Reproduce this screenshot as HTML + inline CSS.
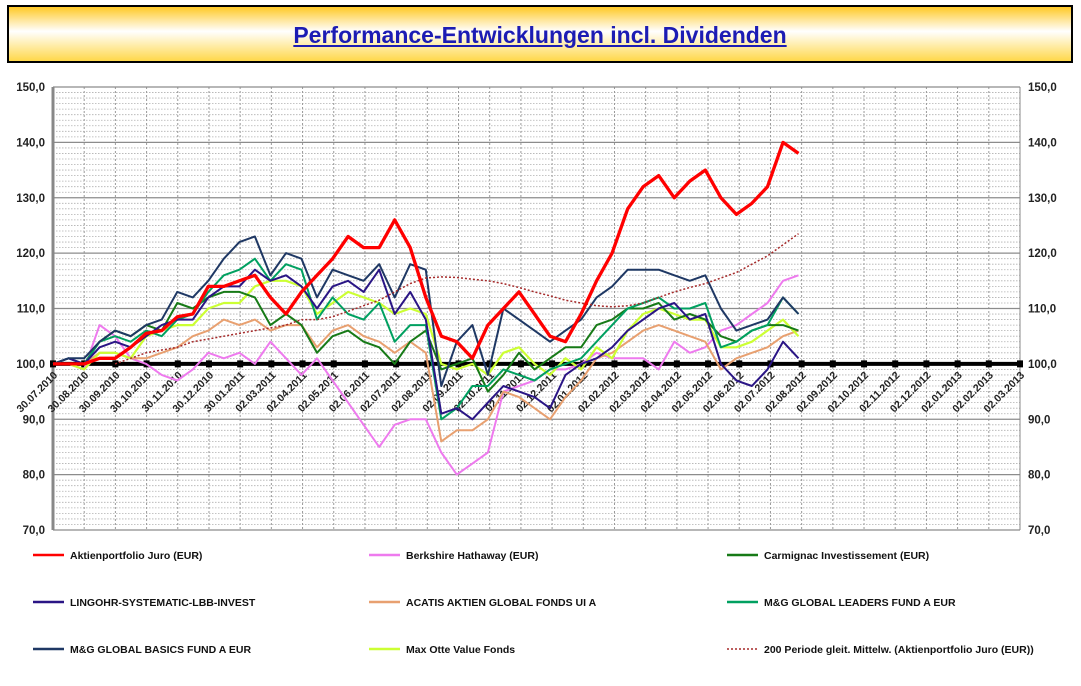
<!DOCTYPE html>
<html><head><meta charset="utf-8"><style>
html,body{margin:0;padding:0;background:#fff;width:1081px;height:686px;overflow:hidden;font-family:"Liberation Sans",sans-serif}
#title{position:absolute;left:7px;top:5px;width:1062px;height:54px;border:2px solid #000;background:linear-gradient(#ffc926 0%,#fff 45%,#ffd84a 100%);text-align:center}
#title span{display:inline-block;margin-top:15px;font-size:23px;font-weight:bold;color:#1c1cb4;text-decoration:underline}
svg{position:absolute;left:0;top:0}
</style></head><body>
<div id="title"><span>Performance-Entwicklungen incl. Dividenden</span></div>
<svg id="chart" width="1081" height="686"></svg>
<script>
const monthLabels=["30.07.2010","30.08.2010","30.09.2010","30.10.2010","30.11.2010","30.12.2010","30.01.2011","02.03.2011","02.04.2011","02.05.2011","02.06.2011","02.07.2011","02.08.2011","02.09.2011","02.10.2011","02.11.2011","02.12.2011","02.01.2012","02.02.2012","02.03.2012","02.04.2012","02.05.2012","02.06.2012","02.07.2012","02.08.2012","02.09.2012","02.10.2012","02.11.2012","02.12.2012","02.01.2013","02.02.2013","02.03.2013"];
const yTicks=[70,80,90,100,110,120,130,140,150];
const seriesNames=["Aktienportfolio Juro (EUR)","Berkshire Hathaway (EUR)","Carmignac Investissement (EUR)","LINGOHR-SYSTEMATIC-LBB-INVEST","ACATIS AKTIEN GLOBAL FONDS UI A","M&G GLOBAL LEADERS FUND A EUR","M&G GLOBAL BASICS FUND A EUR","Max Otte Value Fonds","200 Periode gleit. Mittelw. (Aktienportfolio Juro (EUR))"];
const juro=[100,100,100,101,101,103,105.5,106,108.5,109,114,114,115,116,112,109,113,116,119,123,121,121,126,121,112,105,104,101,107,110,113,109,105,104,109,115,120,128,132,134,130,133,135,130,127,129,132,140,138];
const berkshire=[100,100,99,107,105,101,100,98,97,99,102,101,102,100,104,101,98,101,97,93,89,85,89,90,90,84,80,82,84,95,96,97,99,99,100,102,101,101,101,99,104,102,103,106,107,109,111,115,116];
const carmignac=[100,100,100,104,106,105,107,106,111,110,112,113,113,112,107,109,107,102,105,106,104,103,100,104,106,99,100,101,95,98,102,99,101,103,103,107,108,110,110,111,108,109,108,105,104,106,107,107,106];
const lingohr=[100,101,100,103,104,103,105,107,108,108,112,114,114,117,115,116,114,110,114,115,113,117,109,113,108,91,92,90,93,96,95,94,92,98,100,101,103,106,108,110,111,108,109,100,97,96,99,104,101];
const acatis=[100,100,100,102,102,101,101,102,103,105,106,108,107,108,106,107,107,103,106,107,105,104,102,104,102,86,88,88,90,95,94,92,90,94,97,101,102,104,106,107,106,105,104,99,101,102,103,105,106];
const leaders=[100,101,100,104,105,104,106,105,108,109,113,116,117,119,115,118,117,108,112,109,108,111,104,107,107,90,92,96,96,99,98,97,99,100,101,104,107,110,111,112,110,110,111,103,104,106,107,112,109];
const basics=[100,101,101,104,106,105,107,108,113,112,115,119,122,123,116,120,119,112,117,116,115,118,112,118,117,96,104,107,98,110,108,106,104,106,108,112,114,117,117,117,116,115,116,110,106,107,108,112,109];
const maxotte=[100,100,99,102,102,101,105,106,107,107,110,111,111,114,115,115,114,109,111,113,112,111,109,110,109,100,99,100,98,102,103,100,98,101,99,103,101,106,109,110,109,108,108,103,103,104,106,108,105];
const movingAvg=[null,null,null,null,100,101,102,102.5,103,104,104.5,105,105.5,106,106.5,107,108,108,108.5,109.5,110.5,111.5,113,114.5,115.5,115.7,115.6,115.3,115,114.5,113.8,113,112.3,111.5,111,110.5,110.3,110.5,111,112,113,113.8,114.5,115.5,116.5,118,119.5,121.5,123.5];

const NS="http://www.w3.org/2000/svg";
const svg=document.getElementById('chart');
const X0=53,X1=1020,Y0=87,Y1=530;
const xMonth=m=>X0+m*(X1-X0)/31;
const xIdx=i=>xMonth(i*23.9/48);
const yV=v=>Y1-(v-70)*(Y1-Y0)/80;
function el(t,a){const e=document.createElementNS(NS,t);for(const k in a)e.setAttribute(k,a[k]);svg.appendChild(e);return e;}

for(let v=71;v<150;v++){if(v%10===0)continue;
const g=el('line',{x1:X0,x2:X1,y1:yV(v),y2:yV(v),stroke:'#b0b0b0','stroke-width':0.8,'stroke-dasharray':'1.5,1.5'});

}
for(let m=1;m<=31;m++){
const g=el('line',{x1:xMonth(m),x2:xMonth(m),y1:Y0,y2:Y1,stroke:'#999','stroke-width':1,'stroke-dasharray':'2,2'});

}
yTicks.forEach(v=>{
const g=el('line',{x1:X0,x2:X1,y1:yV(v),y2:yV(v),stroke:'#8c8c8c','stroke-width':1.2});


const t=el('text',{x:45,y:yV(v)+4,'text-anchor':'end','font-size':11.5,'font-weight':'bold',fill:'#222'});t.textContent=v.toFixed(1).replace('.',',');


const t2=el('text',{x:1028,y:yV(v)+4,'font-size':11.5,'font-weight':'bold',fill:'#222'});t2.textContent=v.toFixed(1).replace('.',',');

});
const ax=el('line',{x1:X0,x2:X0,y1:Y0,y2:Y1,stroke:'#888','stroke-width':3});


const ax2=el('line',{x1:X1,x2:X1,y1:Y0,y2:Y1,stroke:'#888','stroke-width':1});


const bl=el('line',{x1:X0,x2:X1,y1:yV(100),y2:yV(100),stroke:'#000','stroke-width':4});


monthLabels.forEach((lab,m)=>{
const r=el('rect',{x:xMonth(m)-3,y:yV(100)-3.5,width:6,height:7,fill:'#000'});


const tx=xMonth(m)+5,ty=yV(100)+12;
const t=el('text',{x:tx,y:ty,'text-anchor':'end','font-size':10.5,'font-weight':'bold',fill:'#222',transform:`rotate(-45 ${tx} ${ty})`});t.textContent=lab;

});

function series(arr,color,w,name,dash){
let d='';arr.forEach((v,i)=>{if(v==null)return;d+=(d?'L':'M')+xIdx(i).toFixed(1)+','+yV(v).toFixed(1);});
const p=el('path',{d:d,fill:'none',stroke:color,'stroke-width':w,'stroke-linejoin':'round'});
if(dash)p.setAttribute('stroke-dasharray',dash);

}
series(berkshire,'#ee7aee',2,'line-berkshire');
series(acatis,'#e8a070',2,'line-acatis');
series(maxotte,'#ccff33',2.2,'line-max-otte');
series(carmignac,'#177a17',2,'line-carmignac');
series(leaders,'#00a060',2,'line-mg-leaders');
series(lingohr,'#2a1585',2,'line-lingohr');
series(basics,'#1f3864',2,'line-mg-basics');
series(movingAvg,'#a52a2a',1.5,'line-moving-average','2,2');
series(juro,'#ff0000',3.3,'line-aktienportfolio-juro');

const legColors=['#ff0000','#ee7aee','#177a17','#2a1585','#e8a070','#00a060','#1f3864','#ccff33','#a52a2a'];
const colX=[33,369,727],rowY=[555,602,649];
seriesNames.forEach((n,i)=>{
const cx=colX[i%3],cy=rowY[Math.floor(i/3)];
const l=el('line',{x1:cx,x2:cx+31,y1:cy,y2:cy,stroke:legColors[i],'stroke-width':i===8?1.5:2.5});
if(i===8)l.setAttribute('stroke-dasharray','2,2');


const t=el('text',{x:cx+37,y:cy+4,'font-size':10.5,'font-weight':'bold',fill:'#111'});t.textContent=n;

});
</script>
</body></html>
